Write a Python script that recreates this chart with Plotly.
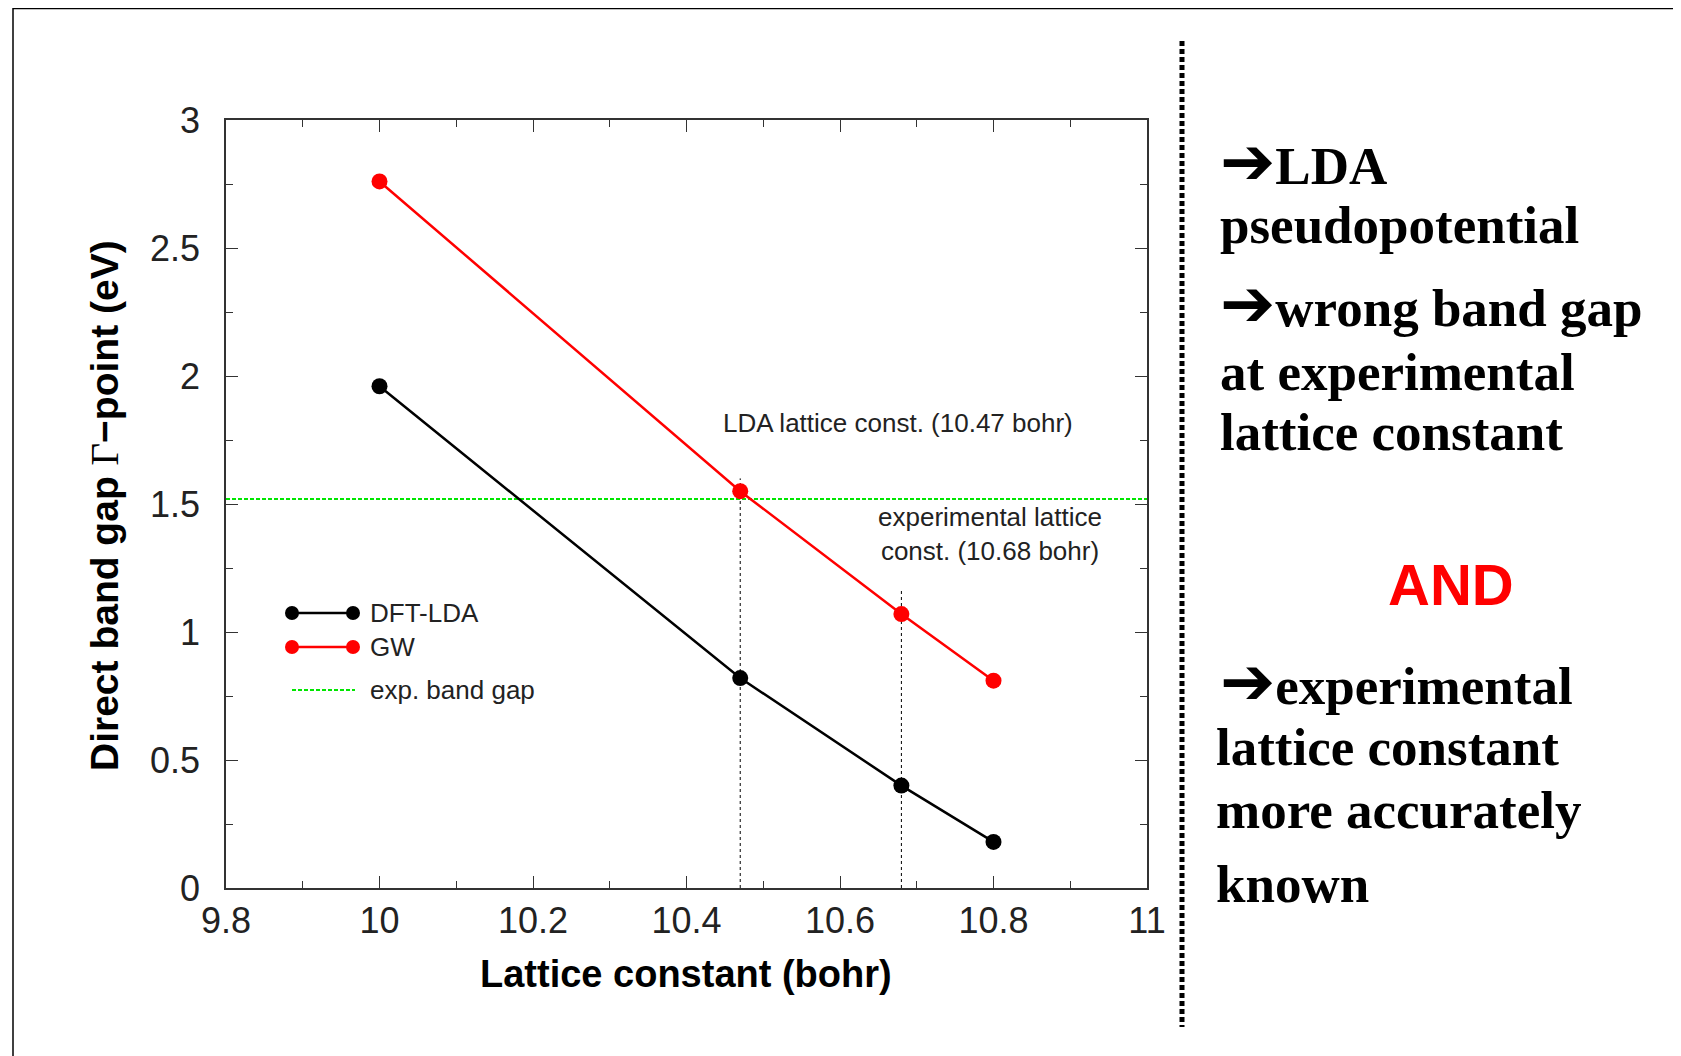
import plotly.graph_objects as go

# ---- data ----
lattice = [10.0, 10.47, 10.68, 10.8]
gap_lda = [1.96, 0.82, 0.40, 0.18]
gap_gw = [2.76, 1.55, 1.07, 0.81]
exp_gap = 1.52
lda_lattice = 10.47
exp_lattice = 10.68
marker_tops = [1.60, 1.165]
x_range = [9.8, 11.0]
y_range = [0.0, 3.0]

OFF = 8  # page body margin
W, H = 1681 - OFF, 1056 - OFF
L, R, T, B = 226 - OFF, 1147 - OFF, 120 - OFF, 888 - OFF


def px(xp):
    return (xp - OFF - L) / (R - L)


def py(yp):
    return (B - (yp - OFF)) / (B - T)


SANS = "Liberation Sans, Arial, sans-serif"
SERIF = "Liberation Serif, Times New Roman, serif"

fig = go.Figure()

fig.add_trace(go.Scatter(x=x_range, y=[exp_gap, exp_gap], mode="lines",
                         line=dict(color="#00e600", width=2, dash="4px,2px"),
                         showlegend=False, hoverinfo="skip"))
for xv, top in zip([lda_lattice, exp_lattice], marker_tops):
    fig.add_trace(go.Scatter(x=[xv, xv], y=[0, top], mode="lines",
                             line=dict(color="black", width=1, dash="3px,3px"),
                             showlegend=False, hoverinfo="skip"))

fig.add_trace(go.Scatter(x=lattice, y=gap_lda, mode="lines+markers", name="DFT-LDA",
                         line=dict(color="black", width=2.5),
                         marker=dict(color="black", size=16), showlegend=False))
fig.add_trace(go.Scatter(x=lattice, y=gap_gw, mode="lines+markers", name="GW",
                         line=dict(color="#ff0000", width=2.5),
                         marker=dict(color="#ff0000", size=16), showlegend=False))

axis_common = dict(showline=True, linecolor="#333", linewidth=1.5, mirror="allticks",
                   ticks="inside", ticklen=12, tickwidth=1.3, tickcolor="#333",
                   showgrid=False, zeroline=False,
                   tickfont=dict(family=SANS, size=36, color="#222"))

fig.update_xaxes(range=x_range, tick0=9.8, dtick=0.2,
                 minor=dict(dtick=0.1, ticks="inside", ticklen=7, tickcolor="#333", tickwidth=1.3),
                 ticklabelstandoff=0, **axis_common)
fig.update_yaxes(range=y_range, tick0=0, dtick=0.5,
                 minor=dict(dtick=0.25, ticks="inside", ticklen=7, tickcolor="#333", tickwidth=1.3),
                 ticklabelstandoff=17, **axis_common)

ann = []
ann.append(dict(text="<b>Lattice constant (bohr)</b>", x=px(686), y=py(974), xref="paper", yref="paper",
                showarrow=False, xanchor="center", yanchor="middle",
                font=dict(family=SANS, size=38, color="black")))
ann.append(dict(text="<b>Direct band gap </b><span style='font-family:Liberation Serif;font-weight:normal'>Γ</span><b>−point (eV)</b>",
                x=px(104), y=py(506), xref="paper", yref="paper", textangle=-90,
                showarrow=False, xanchor="center", yanchor="middle",
                font=dict(family=SANS, size=39, color="black")))
ann.append(dict(text="LDA lattice const. (10.47 bohr)", x=px(898), y=py(423), xref="paper", yref="paper",
                showarrow=False, xanchor="center", yanchor="middle",
                font=dict(family=SANS, size=26, color="#222")))
ann.append(dict(text="experimental lattice<br>const. (10.68 bohr)", x=px(990), y=py(534), xref="paper", yref="paper",
                showarrow=False, xanchor="center", yanchor="middle", align="center",
                font=dict(family=SANS, size=26, color="#222")))

shapes = []
leg_rows = [("DFT-LDA", "black", 613, "solid"), ("GW", "#ff0000", 647, "solid"),
            ("exp. band gap", "#00e600", 690, "dash")]
for name, col, yy, kind in leg_rows:
    if kind == "solid":
        shapes.append(dict(type="line", xref="paper", yref="paper", x0=px(292), x1=px(353),
                           y0=py(yy), y1=py(yy), line=dict(color=col, width=2.5)))
        for cx in (292, 353):
            shapes.append(dict(type="circle", xref="paper", yref="paper",
                               x0=px(cx - 7), x1=px(cx + 7), y0=py(yy + 7), y1=py(yy - 7),
                               fillcolor=col, line=dict(color=col, width=0)))
    else:
        shapes.append(dict(type="line", xref="paper", yref="paper", x0=px(292), x1=px(355),
                           y0=py(yy), y1=py(yy), line=dict(color=col, width=2, dash="4px,2px")))
    ann.append(dict(text=name, x=px(368), y=py(yy), xref="paper", yref="paper",
                    showarrow=False, xanchor="left", yanchor="middle",
                    font=dict(family=SANS, size=26, color="#222")))

FS = 53
ARROW = "<span style='font-family:DejaVu Sans;font-size:66px;font-weight:bold'>➔</span>"
right_lines = [
    (ARROW + "<b>LDA</b>", 1218, 180),
    ("<b>pseudopotential</b>", 1218, 243),
    (ARROW + "<b>wrong band gap</b>", 1218, 322),
    ("<b>at experimental</b>", 1218, 390),
    ("<b>lattice constant</b>", 1218, 450),
    (ARROW + "<b>experimental</b>", 1218, 700),
    ("<b>lattice constant</b>", 1214, 765),
    ("<b>more accurately</b>", 1214, 828),
    ("<b>known</b>", 1214, 902),
]
for txt, xx, base in right_lines:
    ann.append(dict(text=txt, x=px(xx), y=py(base - 0.34 * FS), xref="paper", yref="paper",
                    showarrow=False, xanchor="left", yanchor="middle",
                    font=dict(family=SERIF, size=FS, color="black")))
ann.append(dict(text="<b>AND</b>", x=px(1451), y=py(605 - 0.3465 * 58), xref="paper", yref="paper",
                showarrow=False, xanchor="center", yanchor="middle",
                font=dict(family=SANS, size=58, color="#ff0000")))

shapes.append(dict(type="line", xref="paper", yref="paper", x0=px(1182), x1=px(1182),
                   y0=py(41), y1=py(1027), line=dict(color="black", width=5, dash="5px,3px")))
shapes.append(dict(type="line", xref="paper", yref="paper", x0=px(13), x1=px(1681),
                   y0=py(8), y1=py(8), line=dict(color="black", width=2.5)))
shapes.append(dict(type="line", xref="paper", yref="paper", x0=px(13), x1=px(13),
                   y0=py(8), y1=py(1056), line=dict(color="black", width=1.5)))

fig.update_layout(width=W, height=H, margin=dict(l=L, r=W - R, t=T, b=H - B),
                  paper_bgcolor="white", plot_bgcolor="white",
                  annotations=ann, shapes=shapes, showlegend=False)

fig.write_html("out.html")
